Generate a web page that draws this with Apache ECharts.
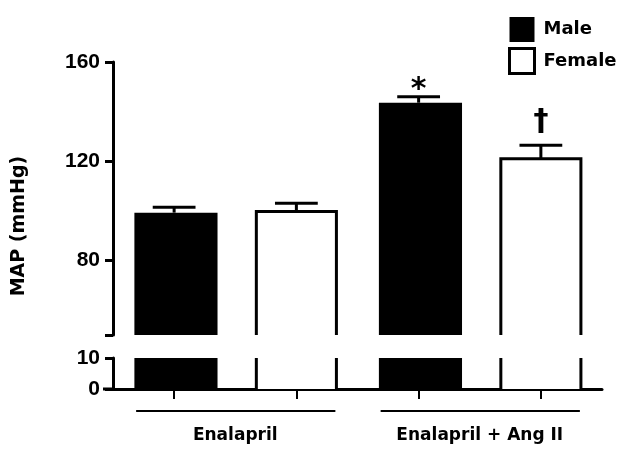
<!DOCTYPE html>
<html>
<head>
<meta charset="utf-8">
<script src="https://cdn.jsdelivr.net/npm/echarts@6/dist/echarts.min.js"></script>
<style>html,body{margin:0;padding:0;background:#fff}#main{width:624px;height:455px}</style>
</head>
<body>
<div id="main"></div>
<script>
const groups = ['Enalapril', 'Enalapril + Ang II'];
const maleMean = [99.3, 143.6];
const maleSem = [2.2, 2.4];
const femaleMean = [99.8, 121];
const femaleSem = [3.3, 5.5];
const maleMarks = ['', '*'];
const femaleMarks = ['', '†'];
const upperTicks = [80, 120, 160];
const lowerTicks = [0, 10];

const FONT = 'DejaVu Sans';
const NUMFONT = 'Liberation Sans';

// one category slot per bar
const slots = [];
const maleData = [], femaleData = [], errData = [], outlineData = [];
groups.forEach(function(g, i){
    slots.push(g + ' Male', g + ' Female');
    maleData.push(maleMean[i], '-');
    femaleData.push('-', femaleMean[i]);
    errData.push([2*i, maleMean[i], maleSem[i], maleMarks[i]]);
    errData.push([2*i+1, femaleMean[i], femaleSem[i], femaleMarks[i]]);
    outlineData.push([2*i+1, femaleMean[i]]);
});

const chart = echarts.init(document.getElementById('main'));

function outline(params, api){
    const cs = params.coordSys;
    const c = api.coord([api.value(0), api.value(1)]);
    const w = api.size([1, 0])[0] * 0.655;
    const left = c[0] - w/2, right = c[0] + w/2;
    const bottom = cs.y + cs.height;
    const st = {stroke:'#000', lineWidth:3, fill:null};
    if (c[1] >= cs.y) {
        return {type:'polyline', shape:{points:[[left,bottom],[left,c[1]],[right,c[1]],[right,bottom]]}, style:st};
    }
    return {type:'group', children:[
        {type:'line', shape:{x1:left, y1:cs.y, x2:left, y2:bottom}, style:st},
        {type:'line', shape:{x1:right, y1:cs.y, x2:right, y2:bottom}, style:st}
    ]};
}

function errorBar(params, api){
    const x = api.value(0), m = api.value(1), e = api.value(2);
    const mark = errData[params.dataIndex][3];
    const base = api.coord([x, m]);
    const top = api.coord([x, m + e]);
    const half = api.size([1, 0])[0] * 0.175;
    const st = {stroke:'#000', lineWidth:3};
    const children = [
        {type:'line', shape:{x1:base[0], y1:base[1], x2:top[0], y2:top[1]}, style:st},
        {type:'line', shape:{x1:top[0]-half, y1:top[1], x2:top[0]+half, y2:top[1]}, style:st}
    ];
    if (mark) {
        const big = mark === '†';
        children.push({type:'text', x: top[0], y: top[1] - (big ? 8 : -8),
            style:{text: mark, fill:'#000', font: 'bold 30px "' + FONT + '"',
                align:'center', verticalAlign:'bottom'}});
    }
    return {type:'group', children: children};
}

const yLabel = {fontFamily: NUMFONT, fontWeight:'bold', fontSize:21, color:'#000', margin:13};
const axisLine = {show:true, lineStyle:{color:'#000', width:3}};

chart.setOption({
    animation: false,
    grid: [
        {left:113, right:22, top:62, height:273},
        {left:113, right:22, top:358, height:31}
    ],
    legend: {
        orient:'vertical', left:503, top:12, itemWidth:25, itemHeight:25, itemGap:5,
        icon:'rect',
        textStyle:{fontFamily:FONT, fontWeight:'bold', fontSize:18, color:'#000', padding:[0,0,0,4]},
        data:[
            {name:'Male', itemStyle:{color:'#000'}},
            {name:'Female', itemStyle:{color:'#fff', borderColor:'#000', borderWidth:3}}
        ]
    },
    xAxis: [
        {type:'category', gridIndex:0, data:slots, show:false},
        {type:'category', gridIndex:1, data:slots, position:'bottom',
            axisLine:axisLine,
            axisTick:{show:true, interval:0, alignWithLabel:true, length:10, lineStyle:{color:'#000', width:2}},
            axisLabel:{show:false, interval:0}},
        {type:'category', gridIndex:1, data:groups, position:'bottom',
            axisLine:{show:false}, axisTick:{show:false},
            axisLabel:{margin:38, fontFamily:FONT, fontWeight:'bold', fontSize:17, color:'#000'}}
    ],
    yAxis: [
        {type:'value', gridIndex:0, min:50, max:160, splitLine:{show:false},
            axisLine:axisLine,
            axisTick:{show:true, customValues:[50].concat(upperTicks), length:8, lineStyle:{color:'#000', width:3}},
            axisLabel:Object.assign({customValues:upperTicks}, yLabel)},
        {type:'value', gridIndex:1, min:0, max:10, interval:10, splitLine:{show:false},
            axisLine:axisLine,
            axisTick:{show:true, customValues:lowerTicks, length:8, lineStyle:{color:'#000', width:3}},
            axisLabel:Object.assign({customValues:lowerTicks}, yLabel)}
    ],
    series: [
        {name:'Male', type:'bar', xAxisIndex:0, yAxisIndex:0, data:maleData, barWidth:'68%', barGap:'-100%', itemStyle:{color:'#000'}},
        {name:'Female', type:'bar', xAxisIndex:0, yAxisIndex:0, data:femaleData, barWidth:'65%', barGap:'-100%', itemStyle:{color:'#fff'}},
        {name:'Female', type:'custom', xAxisIndex:0, yAxisIndex:0, data:outlineData, renderItem:outline, z:3},
        {name:'Male', type:'bar', xAxisIndex:1, yAxisIndex:1, data:maleData, barWidth:'68%', barGap:'-100%', itemStyle:{color:'#000'}},
        {name:'Female', type:'bar', xAxisIndex:1, yAxisIndex:1, data:femaleData, barWidth:'65%', barGap:'-100%', itemStyle:{color:'#fff'}},
        {name:'Female', type:'custom', xAxisIndex:1, yAxisIndex:1, data:outlineData, renderItem:outline, z:3},
        {type:'custom', xAxisIndex:0, yAxisIndex:0, data:errData, renderItem:errorBar, z:4,
            encode:{x:0, y:1}}
    ]
});

// y axis title, group underlines and the short baseline stub left of the y axis
const base = chart.convertToPixel({xAxisIndex:1, yAxisIndex:1}, [slots[0], 0]);
const band = chart.convertToPixel({xAxisIndex:1}, slots[1]) - chart.convertToPixel({xAxisIndex:1}, slots[0]);
const extra = [
    {id:'ytitle', type:'text', x:19, y:226, rotation:Math.PI/2,
        style:{text:'MAP (mmHg)', fill:'#000', font:'bold 19px "' + FONT + '"', align:'center', verticalAlign:'middle'}},
    {id:'stub', type:'line', shape:{x1:base[0]-band/2-10, y1:base[1], x2:base[0]-band/2, y2:base[1]}, style:{stroke:'#000', lineWidth:3}}
];
groups.forEach(function(g, i){
    const a = chart.convertToPixel({xAxisIndex:1}, slots[2*i]);
    const b = chart.convertToPixel({xAxisIndex:1}, slots[2*i+1]);
    extra.push({id:'under' + i, type:'line', shape:{x1:a-38, y1:base[1]+22, x2:b+39, y2:base[1]+22}, style:{stroke:'#000', lineWidth:2}});
});
chart.setOption({graphic: extra});
</script>
</body>
</html>
